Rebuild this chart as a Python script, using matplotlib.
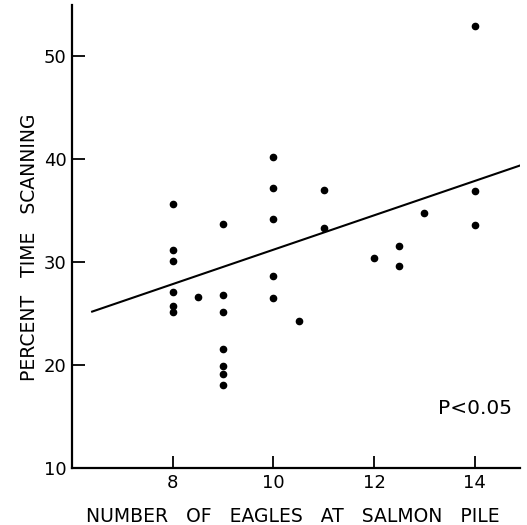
import matplotlib
matplotlib.use("Agg")
import matplotlib.pyplot as plt

# eagles at pile vs percent time scanning
eagles = [8, 8, 8, 8, 8, 8,
          8.5,
          9, 9, 9, 9, 9, 9, 9,
          10, 10, 10, 10, 10,
          10.5,
          11, 11,
          12,
          12.5, 12.5,
          13,
          14, 14, 14]
scanning = [35.7, 31.2, 30.1, 27.1, 25.7, 25.2,
            26.6,
            33.7, 26.8, 25.2, 21.6, 19.9, 19.1, 18.1,
            40.2, 37.2, 34.2, 28.7, 26.5,
            24.3,
            37.0, 33.3,
            30.4,
            31.6, 29.6,
            34.8,
            53.0, 36.9, 33.6]

# regression line as drawn
line_x = [6.4, 14.9]
line_y = [25.2, 39.4]

xticks = [8, 10, 12, 14]
yticks = [10, 20, 30, 40, 50]

fig = plt.figure(figsize=(5.27, 5.25), dpi=100)
ax = fig.add_axes([72/527, 57/525, 448/527, 463/525])

ax.plot(eagles, scanning, "o", color="black", markersize=4.5)
ax.plot(line_x, line_y, color="black", linewidth=1.5)

ax.set_xlim(6, 14.9)
ax.set_ylim(10, 55)
ax.set_xticks(xticks)
ax.set_yticks(yticks)
ax.tick_params(direction="in", length=9, width=1.3, labelsize=13, pad=4)
ax.spines["top"].set_visible(False)
ax.spines["right"].set_visible(False)
ax.spines["left"].set_linewidth(1.6)
ax.spines["bottom"].set_linewidth(1.6)

fig.text(293/527, 1 - 516/525, "NUMBER   OF   EAGLES   AT   SALMON   PILE",
         ha="center", va="center", fontsize=13.5)
fig.text(30/527, 1 - 247/525, "PERCENT   TIME   SCANNING", rotation=90,
         ha="center", va="center", fontsize=13.5)
ax.text(13.27, 15.8, "P<0.05", ha="left", va="center", fontsize=14.5)

fig.savefig("out.png", dpi=100)
